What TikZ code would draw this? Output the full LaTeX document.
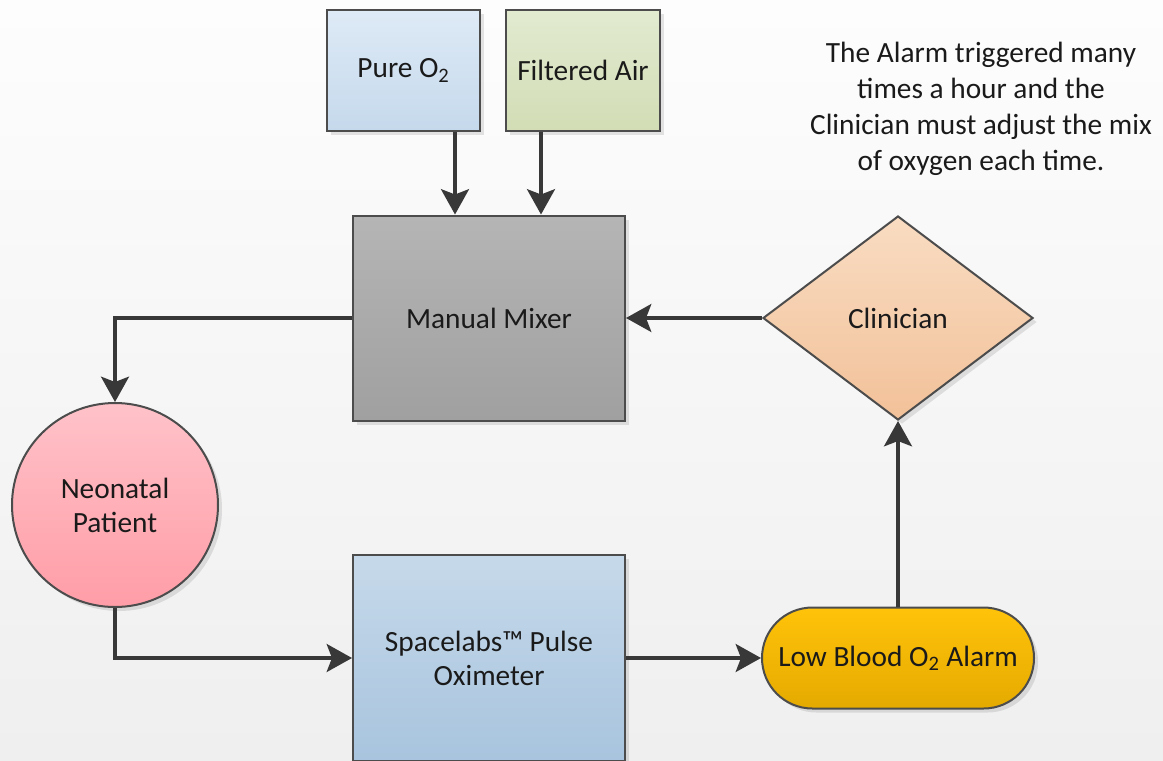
\documentclass[tikz,border=0pt]{standalone}
\usepackage{fontspec}
\setmainfont{Carlito}
\usetikzlibrary{arrows.meta,shapes.geometric,shadows}
\definecolor{linec}{HTML}{383838}
\definecolor{edgec}{HTML}{4C4C4C}
\definecolor{txt}{HTML}{1A1A1A}
\definecolor{pureT}{HTML}{DEEAF6}\definecolor{pureB}{HTML}{C5D9EC}
\definecolor{airT}{HTML}{E2EAD0}\definecolor{airB}{HTML}{D2DDB5}
\definecolor{mixT}{HTML}{B5B5B5}\definecolor{mixB}{HTML}{A0A0A0}
\definecolor{cliT}{HTML}{F9DCC2}\definecolor{cliB}{HTML}{F2C199}
\definecolor{patT}{HTML}{FFC2C9}\definecolor{patB}{HTML}{FF9DA7}
\definecolor{spoT}{HTML}{C6D9EA}\definecolor{spoB}{HTML}{A8C4DE}
\definecolor{alaT}{HTML}{FFC30A}\definecolor{alaB}{HTML}{E5AA00}
\definecolor{bgT}{HTML}{FDFDFD}\definecolor{bgB}{HTML}{EFEFEF}
\newcommand{\sub}[1]{\textsubscript{#1}}
\tikzset{
  base/.style={draw=edgec, line width=1.5pt, text=txt, align=center, inner sep=0pt,
    font=\fontsize{22}{25.5}\selectfont,
    drop shadow={shadow xshift=3pt, shadow yshift=-3pt, fill=black, opacity=0.10}},
  boxn/.style={base, rectangle},
  arr/.style={draw=linec, line width=2.4pt,
    -{Stealth[length=19pt,width=21pt,inset=4pt]}},
}
\begin{document}
\begin{tikzpicture}[x=0.75pt, y=-0.75pt]
\useasboundingbox (0,0) rectangle (1163,760);
\shade[top color=bgT, bottom color=bgB] (0,0) rectangle (1163,760);

\node[boxn, minimum width=114.75pt, minimum height=90.75pt,
  top color=pureT, bottom color=pureB] (pure) at (403.5,70.5) {Pure O\sub{2}};
\node[boxn, minimum width=115.5pt, minimum height=90.75pt,
  top color=airT, bottom color=airB] (air) at (583,70.5) {Filtered Air};
\node[boxn, minimum width=204pt, minimum height=153.75pt,
  top color=mixT, bottom color=mixB] (mixer) at (489,318) {Manual Mixer};
\node[base, diamond, minimum width=202.5pt, minimum height=153pt,
  top color=cliT, bottom color=cliB] (clin) at (898,318) {Clinician};
\node[base, ellipse, minimum width=154.5pt, minimum height=153pt,
  top color=patT, bottom color=patB] (pat) at (115,505) {Neonatal\\Patient};
\node[boxn, minimum width=204pt, minimum height=154.5pt,
  top color=spoT, bottom color=spoB] (spo) at (489,658) {Spacelabs™ Pulse\\Oximeter};
\node[boxn, rounded corners=37.8pt, minimum width=204pt, minimum height=75.75pt,
  top color=alaT, bottom color=alaB] (alarm) at (898,658) {Low Blood O\sub{2} Alarm};

\node[text=txt, align=center, font=\fontsize{22}{27}\selectfont] (note) at (981,109)
  {The Alarm triggered many\\times a hour and the\\Clinician must adjust the mix\\of oxygen each time.};

\coordinate (c1) at (455,0);
\coordinate (c2) at (541,0);
\draw[arr] (pure.south -| c1) -- (mixer.north -| c1);
\draw[arr] (air.south -| c2) -- (mixer.north -| c2);
\draw[arr] (mixer.west) -| (pat.north);
\draw[arr] (pat.south) |- (spo.west);
\draw[arr] (spo.east) -- (alarm.west);
\draw[arr] (alarm.north) -- (clin.south);
\draw[arr] (clin.west) -- (mixer.east);
\end{tikzpicture}
\end{document}
